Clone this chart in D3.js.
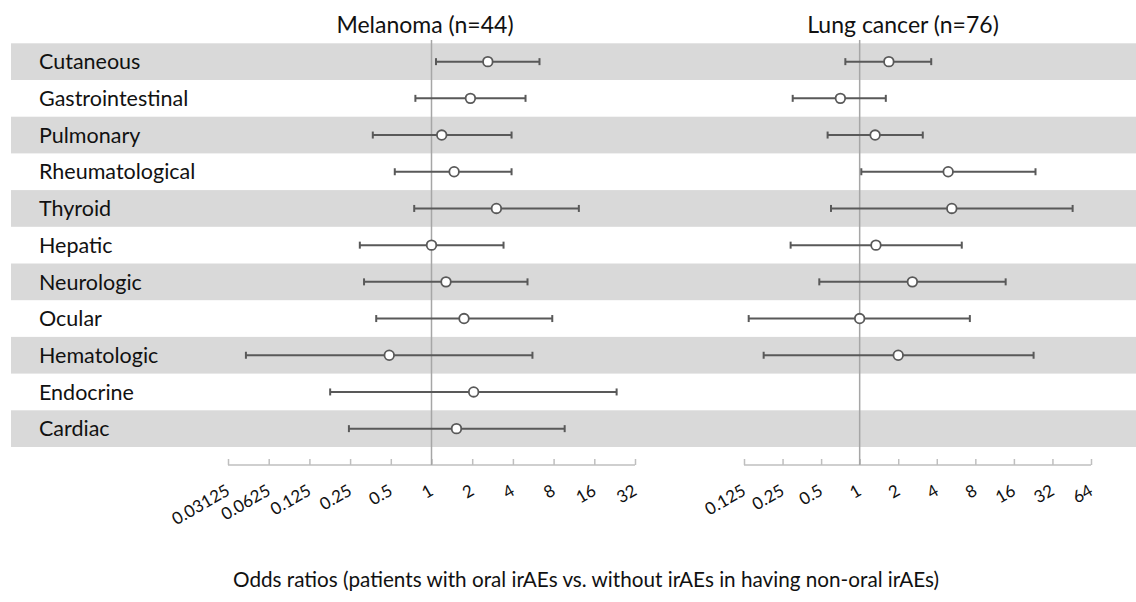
<!DOCTYPE html>
<html><head><meta charset="utf-8">
<script src="https://cdn.jsdelivr.net/npm/d3@7"></script>
<style>body{margin:0;background:#fff}svg{display:block}</style>
</head><body><svg id="c" width="1136" height="602"></svg>
<script>
const categories = ["Cutaneous","Gastrointestinal","Pulmonary","Rheumatological","Thyroid","Hepatic","Neurologic","Ocular","Hematologic","Endocrine","Cardiac"];
// Melanoma odds ratios: point, lower, upper
const melOR  = [2.61,1.94,1.19,1.47,3.02,1.00,1.28,1.74,0.487,2.05,1.53];
const melLow = [1.08,0.76,0.368,0.535,0.745,0.295,0.317,0.39,0.0424,0.178,0.245];
const melHigh= [6.29,4.96,3.91,3.91,12.3,3.41,5.13,7.82,5.58,23.4,9.66];
// Lung cancer (no data for Endocrine, Cardiac)
const lungOR  = [1.69,0.707,1.32,4.91,5.24,1.34,2.58,1.00,2.00,null,null];
const lungLow = [0.773,0.30,0.562,1.03,0.597,0.289,0.484,0.136,0.178,null,null];
const lungHigh= [3.62,1.60,3.11,23.6,46,6.27,13.8,7.25,22.8,null,null];
const melTicks = [0.03125,0.0625,0.125,0.25,0.5,1,2,4,8,16,32];
const lungTicks = [0.125,0.25,0.5,1,2,4,8,16,32,64];
const titles = ["Melanoma (n=44)","Lung cancer (n=76)"];
const xTitle = "Odds ratios (patients with oral irAEs vs. without irAEs in having non-oral irAEs)";

const svg = d3.select("#c");
const font = "Lato, 'Open Sans', sans-serif";
const y = d3.scaleBand().domain(categories).range([43.3, 447]).paddingInner(0);

// bands
svg.append("g").selectAll("rect").data(categories.filter((d,i)=>i%2===0)).join("rect")
  .attr("x",11).attr("width",1136-11)
  .attr("y",d=>y(d)).attr("height",y.bandwidth())
  .attr("fill","#d9d9d9");

// labels
svg.append("g").selectAll("text").data(categories).join("text")
  .attr("x",39).attr("y",d=>y(d)+y.bandwidth()/2).attr("dy","0.36em")
  .attr("font-family",font).attr("font-size",21.5).attr("fill","#111")
  .text(d=>d);

function panel(ticks, xr, ors, lows, highs, title, titleX) {
  const x = d3.scaleLog().base(2).domain([ticks[0], ticks[ticks.length-1]]).range(xr);
  const axisY = 465;
  const g = svg.append("g");
  const ax = g.append("g").attr("transform",`translate(0,${axisY})`)
    .call(d3.axisTop(x).tickValues(ticks).tickSize(6).tickFormat(""));
  ax.select(".domain").attr("stroke","#bfbfbf").attr("stroke-width",1.5).attr("d",`M${xr[0]},0H${xr[1]}`);
  ax.selectAll(".tick line").attr("stroke","#bfbfbf").attr("stroke-width",1.5);
  g.selectAll("text.tl").data(ticks).join("text").attr("class","tl")
    .attr("transform",d=>`translate(${x(d)+3},${axisY+29}) rotate(-30)`)
    .attr("text-anchor","end").attr("font-family",font).attr("font-size",17).attr("fill","#111")
    .text(d=>String(d));
  // ref line
  g.append("line").attr("x1",x(1)).attr("x2",x(1)).attr("y1",40).attr("y2",axisY)
    .attr("stroke","#a6a6a6").attr("stroke-width",1.5);
  // title
  g.append("text").attr("x",titleX).attr("y",33).attr("text-anchor","middle")
    .attr("font-family",font).attr("font-size",23).attr("fill","#111").text(title);
  const idx = categories.map((c,i)=>i).filter(i=>ors[i]!=null);
  const c = "#595959";
  const rows = g.selectAll("g.row").data(idx).join("g").attr("class","row");
  rows.append("line").attr("x1",i=>x(lows[i])).attr("x2",i=>x(highs[i]))
    .attr("y1",i=>y(categories[i])+y.bandwidth()/2).attr("y2",i=>y(categories[i])+y.bandwidth()/2)
    .attr("stroke",c).attr("stroke-width",2);
  [lows,highs].forEach(arr=>{
    rows.append("line").attr("x1",i=>x(arr[i])).attr("x2",i=>x(arr[i]))
      .attr("y1",i=>y(categories[i])+y.bandwidth()/2-3.5).attr("y2",i=>y(categories[i])+y.bandwidth()/2+3.5)
      .attr("stroke",c).attr("stroke-width",2);
  });
  rows.append("circle").attr("cx",i=>x(ors[i])).attr("cy",i=>y(categories[i])+y.bandwidth()/2)
    .attr("r",4.8).attr("fill","#fff").attr("stroke",c).attr("stroke-width",1.8);
}
panel(melTicks,[228,635],melOR,melLow,melHigh,titles[0],425);
panel(lungTicks,[744,1091],lungOR,lungLow,lungHigh,titles[1],903);

svg.append("text").attr("x",586).attr("y",587).attr("text-anchor","middle")
  .attr("font-family",font).attr("font-size",20.7).attr("fill","#111").text(xTitle);
</script></body></html>
